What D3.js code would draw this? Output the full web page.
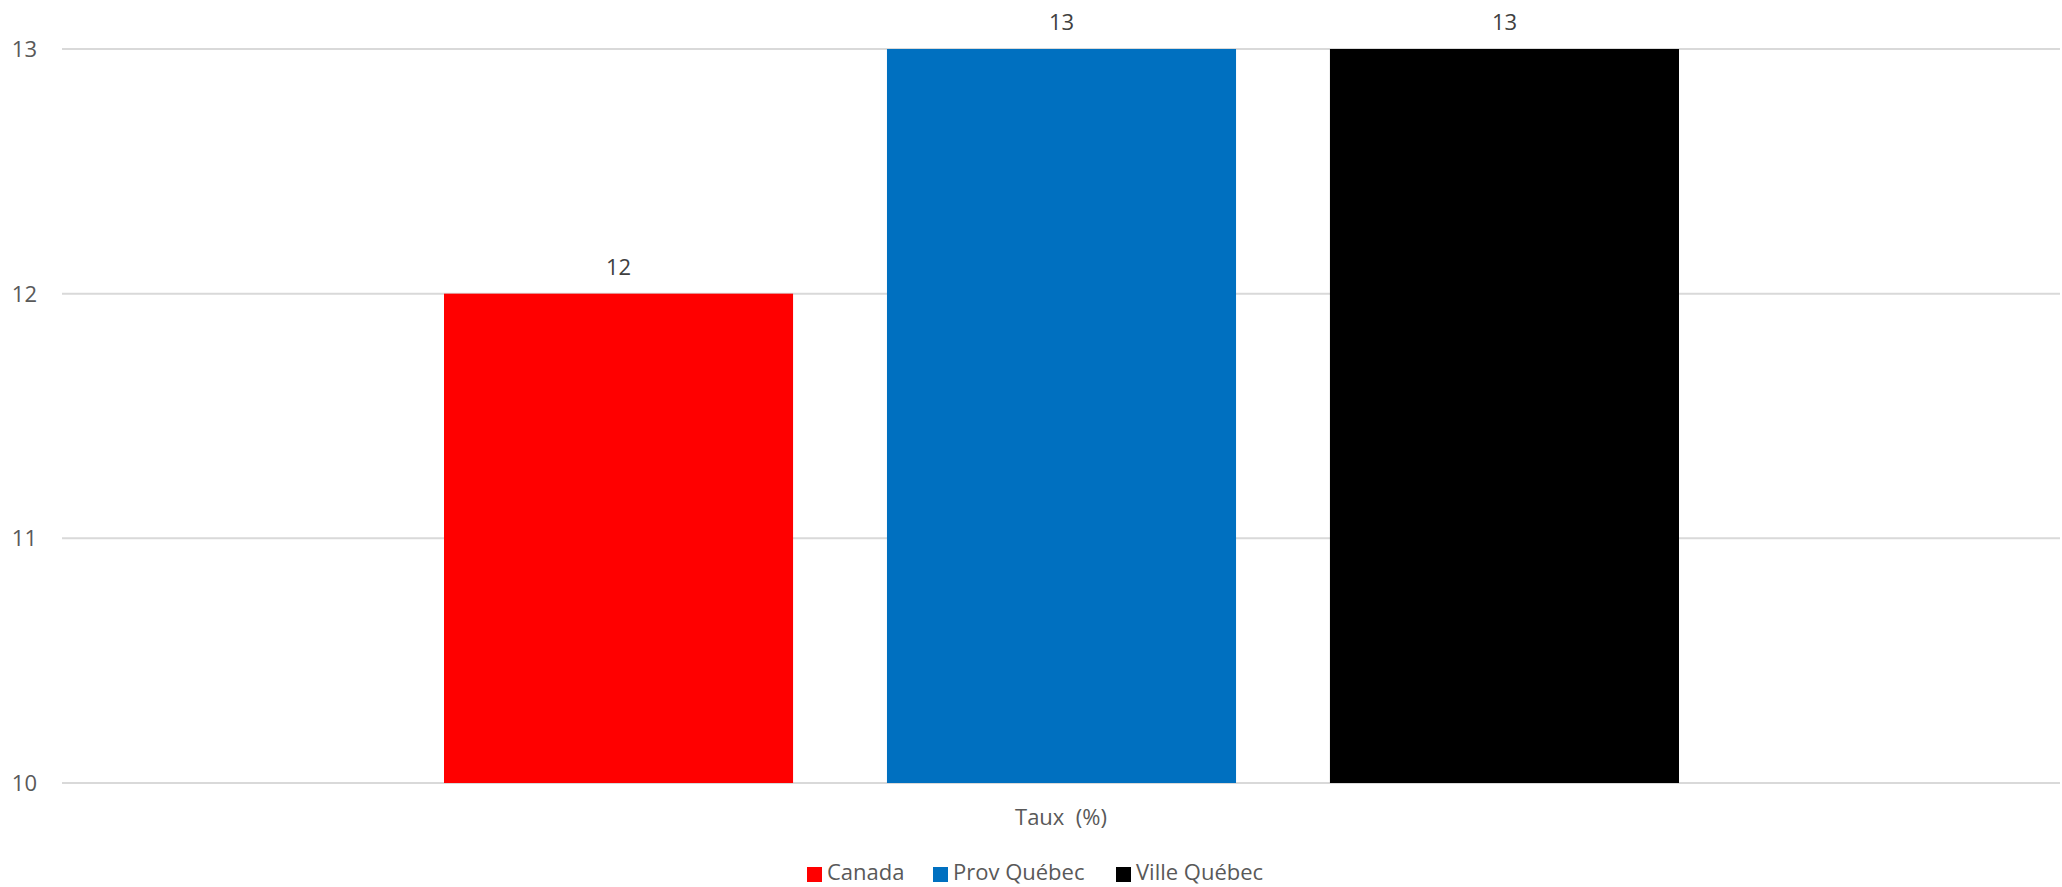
<!DOCTYPE html>
<html>
<head>
<meta charset="utf-8">
<script src="https://cdn.jsdelivr.net/npm/d3@7"></script>
<style>
  html, body { margin: 0; padding: 0; background: #fff; }
  svg { display: block; }
  text { font-family: "Open Sans", "Noto Sans", sans-serif; fill: #595959; }
</style>
</head>
<body>
<svg id="chart" width="2062" height="887"></svg>
<script>
const category = "Taux  (%)";
const seriesNames = ["Canada", "Prov Québec", "Ville Québec"];
const seriesValues = [12, 13, 13];
const seriesColors = ["#FF0000", "#0070C0", "#000000"];
const yTicks = [10, 11, 12, 13];

const W = 2062, H = 887;
const margin = { left: 62, right: 2, top: 49, bottom: 104 };
const svg = d3.select("#chart");

const x0 = d3.scaleBand().domain([category]).range([margin.left, W - margin.right]).paddingInner(0).paddingOuter(0);
const x1 = d3.scaleBand().domain(seriesNames).range([444, 1679]).paddingInner(0.212).paddingOuter(0);
const y = d3.scaleLinear().domain([10, 13]).range([H - margin.bottom, margin.top]);

// gridlines
svg.append("g").selectAll("line").data(yTicks).join("line")
  .attr("x1", margin.left).attr("x2", W - margin.right)
  .attr("y1", d => y(d)).attr("y2", d => y(d))
  .attr("stroke", "#D9D9D9").attr("stroke-width", 2);

// y labels
svg.append("g").selectAll("text").data(yTicks).join("text")
  .attr("x", 37).attr("y", d => y(d) + 8)
  .attr("text-anchor", "end").attr("font-size", 22)
  .text(d => d);

// bars
const bars = seriesNames.map((n, i) => ({ name: n, value: seriesValues[i], color: seriesColors[i] }));
svg.append("g").selectAll("rect").data(bars).join("rect")
  .attr("x", d => x1(d.name)).attr("width", x1.bandwidth())
  .attr("y", d => y(d.value)).attr("height", d => y(10) - y(d.value))
  .attr("fill", d => d.color);

// value labels
svg.append("g").selectAll("text").data(bars).join("text")
  .attr("x", d => x1(d.name) + x1.bandwidth() / 2)
  .attr("y", d => y(d.value) - 19)
  .attr("text-anchor", "middle").attr("font-size", 22)
  .style("fill", "#404040")
  .text(d => d.value);

// category label
svg.append("text")
  .attr("x", x0(category) + x0.bandwidth() / 2).attr("y", 825)
  .attr("text-anchor", "middle").attr("font-size", 22)
  .attr("xml:space", "preserve").style("white-space", "pre")
  .text(category);

// legend
const legendX = [807, 933, 1116];
const lg = svg.append("g");
bars.forEach((d, i) => {
  lg.append("rect").attr("x", legendX[i]).attr("y", 867).attr("width", 15).attr("height", 15).attr("fill", d.color);
  lg.append("text").attr("x", legendX[i] + 20).attr("y", 880).attr("font-size", 22).text(d.name);
});
</script>
</body>
</html>
